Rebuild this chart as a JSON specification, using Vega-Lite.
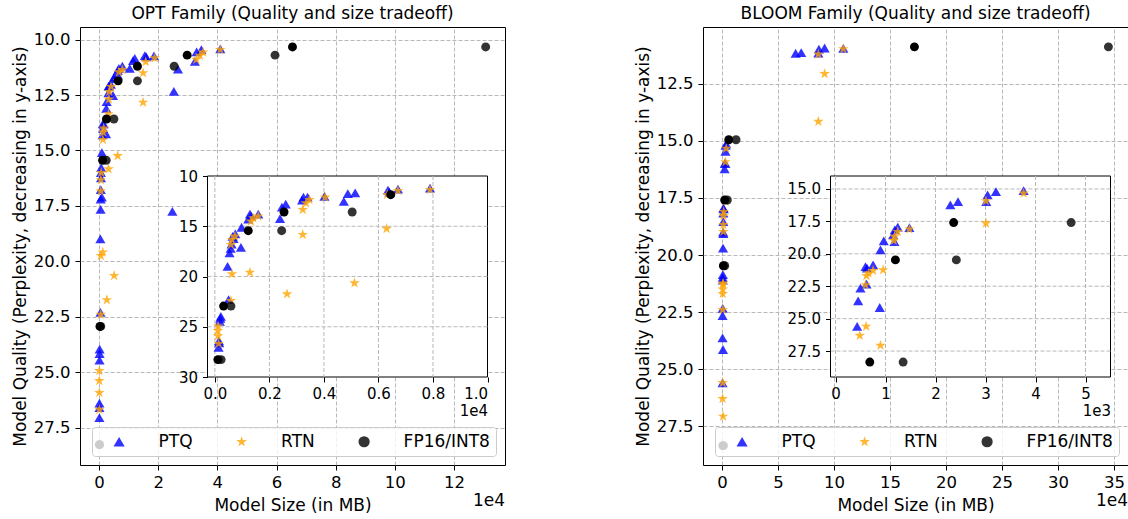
{
  "$schema": "https://vega.github.io/schema/vega-lite/v6.json",
  "background": "white",
  "padding": {"left": 10, "top": 4, "right": 4, "bottom": 4},
  "spacing": 127,
  "config": {
    "font": "DejaVu Sans",
    "view": {"stroke": "black", "strokeWidth": 1},
    "axis": {"domain": false, "tickColor": "black", "tickSize": 5, "tickWidth": 1, "labelColor": "black", "labelFontSize": 16.5, "titleFontSize": 17, "titleFontWeight": "normal", "titleColor": "black", "gridColor": "#b8b8b8", "gridDash": [4, 2], "gridWidth": 1},
    "axisX": {"labelPadding": 4},
    "axisY": {"labelPadding": 5},
    "title": {"fontSize": 17, "fontWeight": "normal", "frame": "group", "offset": 4, "color": "black"},
    "legend": {"orient": "bottom-right", "offset": 9, "direction": "horizontal", "columns": 3, "padding": 6, "strokeColor": "#cccccc", "fillColor": "rgba(255,255,255,0.8)", "cornerRadius": 3, "labelFontSize": 17, "labelColor": "black", "symbolSize": 125, "symbolOpacity": 0.8, "symbolStrokeWidth": 0, "labelOffset": 31, "symbolOffset": 12.6, "columnPadding": 27.5}
  },
  "resolve": {"scale": {"color": "independent", "shape": "independent", "size": "independent"}, "legend": {"color": "independent", "shape": "independent"}},
  "datasets": {
    "opt": [
      {"m":"PTQ","s":135,"p":27.05},{"m":"PTQ","s":159,"p":26.6},{"m":"PTQ","s":150,"p":26.4},{"m":"PTQ","s":184,"p":24.46},{"m":"PTQ","s":200,"p":24.16},{"m":"PTQ","s":220,"p":23.96},{"m":"PTQ","s":502,"p":22.3},{"m":"PTQ","s":466,"p":18.99},{"m":"PTQ","s":539,"p":17.66},{"m":"PTQ","s":580,"p":17.2},{"m":"PTQ","s":613,"p":16.77},{"m":"PTQ","s":686,"p":16.24},{"m":"PTQ","s":650,"p":16.0},{"m":"PTQ","s":748,"p":15.77},{"m":"PTQ","s":980,"p":15.1},{"m":"PTQ","s":956,"p":17.1},{"m":"PTQ","s":1225,"p":14.3},{"m":"PTQ","s":1287,"p":13.8},{"m":"PTQ","s":1330,"p":14.0},{"m":"PTQ","s":1593,"p":13.8},{"m":"PTQ","s":2390,"p":14.25},{"m":"PTQ","s":2460,"p":13.1},{"m":"PTQ","s":2600,"p":12.8},{"m":"PTQ","s":3200,"p":12.4},{"m":"PTQ","s":3250,"p":12.1},{"m":"PTQ","s":3400,"p":12.1},{"m":"PTQ","s":4020,"p":12.02},{"m":"PTQ","s":4730,"p":12.52},{"m":"PTQ","s":4877,"p":11.76},{"m":"PTQ","s":5147,"p":11.69},{"m":"PTQ","s":6350,"p":11.4},{"m":"PTQ","s":6400,"p":11.6},{"m":"PTQ","s":6716,"p":11.3},{"m":"PTQ","s":7892,"p":11.2},{"m":"PTQ","s":10400,"p":11.3},{"m":"PTQ","s":11500,"p":10.95},{"m":"PTQ","s":12100,"p":10.85},{"m":"PTQ","s":15500,"p":10.72},{"m":"PTQ","s":16000,"p":10.78},{"m":"PTQ","s":18600,"p":10.73},{"m":"PTQ","s":24800,"p":17.75},{"m":"PTQ","s":25300,"p":12.33},{"m":"PTQ","s":26700,"p":11.33},{"m":"PTQ","s":32400,"p":10.98},{"m":"PTQ","s":33000,"p":10.55},{"m":"PTQ","s":34600,"p":10.45},{"m":"PTQ","s":41000,"p":10.42},
      {"m":"RTN","s":120,"p":24.94},{"m":"RTN","s":110,"p":25.39},{"m":"RTN","s":115,"p":25.93},{"m":"RTN","s":140,"p":26.69},{"m":"RTN","s":588,"p":22.4},{"m":"RTN","s":625,"p":19.75},{"m":"RTN","s":1287,"p":19.59},{"m":"RTN","s":588,"p":16.83},{"m":"RTN","s":625,"p":16.33},{"m":"RTN","s":735,"p":16.0},{"m":"RTN","s":1324,"p":14.51},{"m":"RTN","s":1409,"p":14.18},{"m":"RTN","s":1593,"p":14.0},{"m":"RTN","s":2647,"p":21.74},{"m":"RTN","s":3223,"p":15.84},{"m":"RTN","s":3223,"p":13.35},{"m":"RTN","s":3345,"p":12.69},{"m":"RTN","s":3468,"p":12.35},{"m":"RTN","s":4044,"p":12.12},{"m":"RTN","s":5122,"p":20.65},{"m":"RTN","s":6299,"p":15.24},{"m":"RTN","s":6324,"p":11.86},{"m":"RTN","s":6716,"p":11.46},{"m":"RTN","s":7892,"p":11.36},{"m":"RTN","s":14900,"p":12.83},{"m":"RTN","s":14900,"p":11.5},{"m":"RTN","s":15800,"p":11.0},{"m":"RTN","s":18800,"p":10.83},{"m":"RTN","s":32900,"p":10.9},{"m":"RTN","s":34100,"p":10.72},{"m":"RTN","s":35200,"p":10.57},{"m":"RTN","s":41000,"p":10.45},
      {"m":"FP16/INT8","k":"INT8","s":110,"p":28.27},{"m":"FP16/INT8","k":"FP16","s":230,"p":28.27},{"m":"FP16/INT8","k":"INT8","s":320,"p":22.94},{"m":"FP16/INT8","k":"FP16","s":590,"p":22.94},{"m":"FP16/INT8","k":"INT8","s":1225,"p":15.44},{"m":"FP16/INT8","k":"FP16","s":2450,"p":15.44},{"m":"FP16/INT8","k":"INT8","s":2537,"p":13.58},{"m":"FP16/INT8","k":"FP16","s":5037,"p":13.58},{"m":"FP16/INT8","k":"INT8","s":6450,"p":11.86},{"m":"FP16/INT8","k":"FP16","s":13000,"p":11.86},{"m":"FP16/INT8","k":"INT8","s":13000,"p":11.2},{"m":"FP16/INT8","k":"FP16","s":25400,"p":11.2},{"m":"FP16/INT8","k":"INT8","s":29800,"p":10.7},{"m":"FP16/INT8","k":"FP16","s":59500,"p":10.7},{"m":"FP16/INT8","k":"INT8","s":65400,"p":10.33},{"m":"FP16/INT8","k":"FP16","s":130700,"p":10.33}
    ],
    "bloom": [
      {"m":"PTQ","s":433,"p":25.6},{"m":"PTQ","s":453,"p":23.63},{"m":"PTQ","s":499,"p":22.65},{"m":"PTQ","s":600,"p":20.98},{"m":"PTQ","s":630,"p":21.1},{"m":"PTQ","s":620,"p":22.34},{"m":"PTQ","s":752,"p":20.86},{"m":"PTQ","s":885,"p":24.14},{"m":"PTQ","s":899,"p":19.7},{"m":"PTQ","s":965,"p":19.0},{"m":"PTQ","s":1152,"p":18.54},{"m":"PTQ","s":1178,"p":19.06},{"m":"PTQ","s":1185,"p":18.16},{"m":"PTQ","s":1245,"p":17.95},{"m":"PTQ","s":1478,"p":17.98},{"m":"PTQ","s":2297,"p":16.23},{"m":"PTQ","s":2450,"p":15.98},{"m":"PTQ","s":3016,"p":15.98},{"m":"PTQ","s":3042,"p":15.46},{"m":"PTQ","s":3209,"p":15.2},{"m":"PTQ","s":3762,"p":15.13},{"m":"PTQ","s":65700,"p":11.16},{"m":"PTQ","s":70700,"p":11.13},{"m":"PTQ","s":86500,"p":10.98},{"m":"PTQ","s":91600,"p":10.93},{"m":"PTQ","s":108300,"p":10.95},{"m":"PTQ","s":86000,"p":11.15},
      {"m":"RTN","s":486,"p":26.3},{"m":"RTN","s":613,"p":25.6},{"m":"RTN","s":899,"p":27.07},{"m":"RTN","s":600,"p":22.4},{"m":"RTN","s":619,"p":21.7},{"m":"RTN","s":660,"p":21.5},{"m":"RTN","s":752,"p":21.3},{"m":"RTN","s":952,"p":21.24},{"m":"RTN","s":1165,"p":18.98},{"m":"RTN","s":1180,"p":18.67},{"m":"RTN","s":1245,"p":18.29},{"m":"RTN","s":1478,"p":18.1},{"m":"RTN","s":3009,"p":15.92},{"m":"RTN","s":3009,"p":17.65},{"m":"RTN","s":3762,"p":15.33},{"m":"RTN","s":86000,"p":11.2},{"m":"RTN","s":91600,"p":12.06},{"m":"RTN","s":86000,"p":14.15},{"m":"RTN","s":108300,"p":10.97},
      {"m":"FP16/INT8","k":"INT8","s":686,"p":28.35},{"m":"FP16/INT8","k":"FP16","s":1352,"p":28.35},{"m":"FP16/INT8","k":"INT8","s":1198,"p":20.47},{"m":"FP16/INT8","k":"FP16","s":2417,"p":20.47},{"m":"FP16/INT8","k":"INT8","s":2363,"p":17.59},{"m":"FP16/INT8","k":"FP16","s":4713,"p":17.59},{"m":"FP16/INT8","k":"INT8","s":6000,"p":14.95},{"m":"FP16/INT8","k":"FP16","s":12500,"p":14.95},{"m":"FP16/INT8","k":"INT8","s":171800,"p":10.88},{"m":"FP16/INT8","k":"FP16","s":345000,"p":10.88}
    ]
  },
  "hconcat": [
    {
      "width": 425, "height": 438,
      "title": "OPT Family (Quality and size tradeoff)",
      "data": {"name": "opt"},
      "layer": [
        {
          "mark": {"type": "point", "filled": true, "strokeWidth": 0},
          "encoding": {
            "x": {"field": "s", "type": "quantitative", "scale": {"domain": [-6420, 137230], "zero": false, "nice": false}, "axis": {"orient": "bottom", "values": [0, 20000, 40000, 60000, 80000, 100000, 120000], "labelExpr": "datum.value / 10000", "title": "Model Size (in MB)", "titlePadding": 7, "grid": true}},
            "y": {"field": "p", "type": "quantitative", "scale": {"domain": [9.43, 29.19], "reverse": true, "zero": false, "nice": false}, "axis": {"orient": "left", "values": [10, 12.5, 15, 17.5, 20, 22.5, 25, 27.5], "format": ".1f", "title": "Model Quality (Perplexity, decreasing in y-axis)", "titlePadding": 4, "grid": true}},
            "color": {"field": "m", "type": "nominal", "title": null, "scale": {"domain": ["PTQ", "RTN", "FP16/INT8"], "range": ["#0000ff", "#ffa500", "#000000"]}},
            "shape": {"field": "m", "type": "nominal", "title": null, "scale": {"domain": ["PTQ", "RTN", "FP16/INT8"], "range": ["triangle-up", "M0,-1L0.2245,-0.309L0.9511,-0.309L0.3633,0.118L0.5878,0.809L0,0.382L-0.5878,0.809L-0.3633,0.118L-0.9511,-0.309L-0.2245,-0.309Z", "circle"]}},
            "size": {"field": "m", "type": "nominal", "legend": null, "scale": {"domain": ["FP16/INT8", "PTQ", "RTN"], "range": [80, 125, 140]}},
            "opacity": {"condition": {"test": "datum.k === 'INT8'", "value": 1}, "value": 0.8}
          }
        },
        {
          "data": {"values": [{}]},
          "mark": {"type": "text", "align": "right", "baseline": "alphabetic", "dy": 41, "fontSize": 17, "color": "black"},
          "encoding": {
            "x": {"datum": 137230, "scale": {"domain": [-6420, 137230], "zero": false, "nice": false}, "axis": null},
            "y": {"datum": 29.19, "scale": {"domain": [9.43, 29.19], "reverse": true, "zero": false, "nice": false}, "axis": null},
            "text": {"value": "1e4"}
          }
        },
        {
          "data": {"values": [{}]},
          "mark": {"type": "rect", "fill": "white", "stroke": "black", "strokeWidth": 1},
          "encoding": {
            "x": {"datum": -270, "scale": {"domain": [-270, 10000], "range": [127.5, 407.5], "zero": false, "nice": false}, "axis": null},
            "x2": {"datum": 10000},
            "y": {"datum": 10, "scale": {"domain": [10, 30], "range": [149, 350], "zero": false, "nice": false}, "axis": null},
            "y2": {"datum": 30}
          }
        },
        {
          "data": {"values": [{"g": 0}, {"g": 2000}, {"g": 4000}, {"g": 6000}, {"g": 8000}]},
          "mark": {"type": "rule", "color": "#b8b8b8", "strokeDash": [4, 2], "strokeWidth": 1},
          "encoding": {
            "x": {"field": "g", "type": "quantitative", "scale": {"domain": [-270, 10000], "range": [127.5, 407.5], "zero": false, "nice": false}, "axis": null},
            "y": {"datum": 10, "scale": {"domain": [10, 30], "range": [149, 350], "zero": false, "nice": false}, "axis": null},
            "y2": {"datum": 30}
          }
        },
        {
          "data": {"values": [{"g": 15}, {"g": 20}, {"g": 25}]},
          "mark": {"type": "rule", "color": "#b8b8b8", "strokeDash": [4, 2], "strokeWidth": 1},
          "encoding": {
            "y": {"field": "g", "type": "quantitative", "scale": {"domain": [10, 30], "range": [149, 350], "zero": false, "nice": false}, "axis": null},
            "x": {"datum": -270, "scale": {"domain": [-270, 10000], "range": [127.5, 407.5], "zero": false, "nice": false}, "axis": null},
            "x2": {"datum": 10000}
          }
        },
        {
          "transform": [{"filter": "datum.s <= 10000"}],
          "mark": {"type": "point", "filled": true, "strokeWidth": 0},
          "encoding": {
            "x": {"field": "s", "type": "quantitative", "scale": {"domain": [-270, 10000], "range": [127.5, 407.5], "zero": false, "nice": false}, "axis": {"orient": "bottom", "offset": -88, "values": [0, 2000, 4000, 6000, 8000, 10000], "labelExpr": "format(datum.value / 10000, '.1f')", "labelFontSize": 15, "title": "1e4", "titleFontSize": 15, "titleAnchor": "end", "titlePadding": 2, "grid": false, "zindex": 1}},
            "y": {"field": "p", "type": "quantitative", "scale": {"domain": [10, 30], "range": [149, 350], "zero": false, "nice": false}, "axis": {"orient": "left", "offset": -127.5, "values": [10, 15, 20, 25, 30], "format": "d", "labelFontSize": 15, "title": null, "grid": false, "zindex": 1}},
            "color": {"field": "m", "type": "nominal", "title": null, "scale": {"domain": ["PTQ", "RTN", "FP16/INT8"], "range": ["#0000ff", "#ffa500", "#000000"]}},
            "shape": {"field": "m", "type": "nominal", "title": null, "scale": {"domain": ["PTQ", "RTN", "FP16/INT8"], "range": ["triangle-up", "M0,-1L0.2245,-0.309L0.9511,-0.309L0.3633,0.118L0.5878,0.809L0,0.382L-0.5878,0.809L-0.3633,0.118L-0.9511,-0.309L-0.2245,-0.309Z", "circle"]}},
            "size": {"field": "m", "type": "nominal", "legend": null, "scale": {"domain": ["FP16/INT8", "PTQ", "RTN"], "range": [80, 125, 140]}},
            "opacity": {"condition": {"test": "datum.k === 'INT8'", "value": 1}, "value": 0.8}
          }
        }
      ],
      "resolve": {"scale": {"x": "independent", "y": "independent"}, "axis": {"x": "independent", "y": "independent"}}
    },
    {
      "width": 425, "height": 438,
      "title": "BLOOM Family (Quality and size tradeoff)",
      "data": {"name": "bloom"},
      "layer": [
        {
          "mark": {"type": "point", "filled": true, "strokeWidth": 0},
          "encoding": {
            "x": {"field": "s", "type": "quantitative", "scale": {"domain": [-17000, 362500], "zero": false, "nice": false}, "axis": {"orient": "bottom", "values": [0, 50000, 100000, 150000, 200000, 250000, 300000, 350000], "labelExpr": "datum.value / 10000", "title": "Model Size (in MB)", "titlePadding": 7, "grid": true}},
            "y": {"field": "p", "type": "quantitative", "scale": {"domain": [10.01, 29.2], "reverse": true, "zero": false, "nice": false}, "axis": {"orient": "left", "values": [12.5, 15, 17.5, 20, 22.5, 25, 27.5], "format": ".1f", "title": "Model Quality (Perplexity, decreasing in y-axis)", "titlePadding": 4, "grid": true}},
            "color": {"field": "m", "type": "nominal", "title": null, "scale": {"domain": ["PTQ", "RTN", "FP16/INT8"], "range": ["#0000ff", "#ffa500", "#000000"]}},
            "shape": {"field": "m", "type": "nominal", "title": null, "scale": {"domain": ["PTQ", "RTN", "FP16/INT8"], "range": ["triangle-up", "M0,-1L0.2245,-0.309L0.9511,-0.309L0.3633,0.118L0.5878,0.809L0,0.382L-0.5878,0.809L-0.3633,0.118L-0.9511,-0.309L-0.2245,-0.309Z", "circle"]}},
            "size": {"field": "m", "type": "nominal", "legend": null, "scale": {"domain": ["FP16/INT8", "PTQ", "RTN"], "range": [80, 125, 140]}},
            "opacity": {"condition": {"test": "datum.k === 'INT8'", "value": 1}, "value": 0.8}
          }
        },
        {
          "data": {"values": [{}]},
          "mark": {"type": "text", "align": "right", "baseline": "alphabetic", "dy": 40.5, "fontSize": 17, "color": "black"},
          "encoding": {
            "x": {"datum": 362500, "scale": {"domain": [-17000, 362500], "zero": false, "nice": false}, "axis": null},
            "y": {"datum": 29.2, "scale": {"domain": [10.01, 29.2], "reverse": true, "zero": false, "nice": false}, "axis": null},
            "text": {"value": "1e4"}
          }
        },
        {
          "data": {"values": [{}]},
          "mark": {"type": "rect", "fill": "white", "stroke": "black", "strokeWidth": 1},
          "encoding": {
            "x": {"datum": -100, "scale": {"domain": [-100, 5500], "range": [127.5, 407.5], "zero": false, "nice": false}, "axis": null},
            "x2": {"datum": 5500},
            "y": {"datum": 14, "scale": {"domain": [14, 29.5], "range": [149, 350], "zero": false, "nice": false}, "axis": null},
            "y2": {"datum": 29.5}
          }
        },
        {
          "data": {"values": [{"g": 0}, {"g": 1000}, {"g": 2000}, {"g": 3000}, {"g": 4000}, {"g": 5000}]},
          "mark": {"type": "rule", "color": "#b8b8b8", "strokeDash": [4, 2], "strokeWidth": 1},
          "encoding": {
            "x": {"field": "g", "type": "quantitative", "scale": {"domain": [-100, 5500], "range": [127.5, 407.5], "zero": false, "nice": false}, "axis": null},
            "y": {"datum": 14, "scale": {"domain": [14, 29.5], "range": [149, 350], "zero": false, "nice": false}, "axis": null},
            "y2": {"datum": 29.5}
          }
        },
        {
          "data": {"values": [{"g": 15}, {"g": 17.5}, {"g": 20}, {"g": 22.5}, {"g": 25}, {"g": 27.5}]},
          "mark": {"type": "rule", "color": "#b8b8b8", "strokeDash": [4, 2], "strokeWidth": 1},
          "encoding": {
            "y": {"field": "g", "type": "quantitative", "scale": {"domain": [14, 29.5], "range": [149, 350], "zero": false, "nice": false}, "axis": null},
            "x": {"datum": -100, "scale": {"domain": [-100, 5500], "range": [127.5, 407.5], "zero": false, "nice": false}, "axis": null},
            "x2": {"datum": 5500}
          }
        },
        {
          "transform": [{"filter": "datum.s <= 5500"}],
          "mark": {"type": "point", "filled": true, "strokeWidth": 0},
          "encoding": {
            "x": {"field": "s", "type": "quantitative", "scale": {"domain": [-100, 5500], "range": [127.5, 407.5], "zero": false, "nice": false}, "axis": {"orient": "bottom", "offset": -88, "values": [0, 1000, 2000, 3000, 4000, 5000], "labelExpr": "datum.value / 1000", "labelFontSize": 15, "title": "1e3", "titleFontSize": 15, "titleAnchor": "end", "titlePadding": 2, "grid": false, "zindex": 1}},
            "y": {"field": "p", "type": "quantitative", "scale": {"domain": [14, 29.5], "range": [149, 350], "zero": false, "nice": false}, "axis": {"orient": "left", "offset": -127.5, "values": [15, 17.5, 20, 22.5, 25, 27.5], "format": ".1f", "labelFontSize": 15, "title": null, "grid": false, "zindex": 1}},
            "color": {"field": "m", "type": "nominal", "title": null, "scale": {"domain": ["PTQ", "RTN", "FP16/INT8"], "range": ["#0000ff", "#ffa500", "#000000"]}},
            "shape": {"field": "m", "type": "nominal", "title": null, "scale": {"domain": ["PTQ", "RTN", "FP16/INT8"], "range": ["triangle-up", "M0,-1L0.2245,-0.309L0.9511,-0.309L0.3633,0.118L0.5878,0.809L0,0.382L-0.5878,0.809L-0.3633,0.118L-0.9511,-0.309L-0.2245,-0.309Z", "circle"]}},
            "size": {"field": "m", "type": "nominal", "legend": null, "scale": {"domain": ["FP16/INT8", "PTQ", "RTN"], "range": [80, 125, 140]}},
            "opacity": {"condition": {"test": "datum.k === 'INT8'", "value": 1}, "value": 0.8}
          }
        }
      ],
      "resolve": {"scale": {"x": "independent", "y": "independent"}, "axis": {"x": "independent", "y": "independent"}}
    }
  ]
}
